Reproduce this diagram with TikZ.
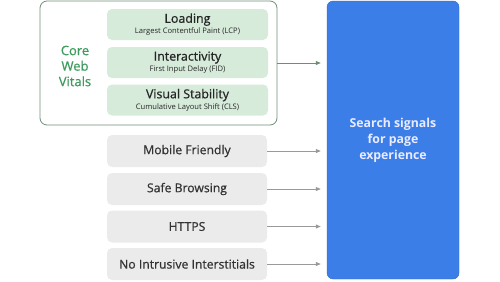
\documentclass[tikz,border=0pt]{standalone}
\usepackage{fontspec}
\setmainfont{Open Sans}
\newfontfamily\medium[FakeBold=0.7]{Open Sans}
\usetikzlibrary{arrows.meta}

\definecolor{cwvline}{HTML}{6E8E78}
\definecolor{cwvfill}{HTML}{D6EBDA}
\definecolor{cwvtext}{HTML}{3E9A5E}
\definecolor{sigfill}{HTML}{EBEBEB}
\definecolor{sigblue}{HTML}{3C7EE8}
\definecolor{arrgray}{HTML}{9A9A9A}

\tikzset{
  metric/.style={rounded corners=5pt,fill=cwvfill,minimum width=161pt,minimum height=31pt,
    align=center,inner sep=0pt,text=black!85},
  signal/.style={rounded corners=5pt,fill=sigfill,minimum width=160pt,minimum height=32pt,
    inner sep=0pt,text=black!80,font=\medium\fontsize{12.2}{14}\selectfont},
  feed/.style={draw=arrgray,line width=0.8pt,-{Triangle[length=5pt,width=4pt]},shorten >=6pt}
}

\begin{document}
\begin{tikzpicture}[x=1pt,y=-1pt]
\useasboundingbox (0,0) rectangle (500,281);
% the target box
\node[rounded corners=6pt,fill=sigblue,draw=sigblue!85!black,line width=0.4pt,
  minimum width=132pt,minimum height=278pt,align=center,text=white!92!blue,
  font=\bfseries\fontsize{12.3}{16}\selectfont] (sig) at (393,140)
  {Search signals\\for page\\experience};
% core web vitals group
\node[rounded corners=7pt,draw=cwvline,line width=0.8pt,minimum width=237pt,
  minimum height=124pt] (cwv) at (158.5,63) {};
\node[text=cwvtext,align=center,font=\medium\fontsize{13}{15.5}\selectfont] (cwvlbl)
  at (75,66) {Core\\Web\\Vitals};
\node[metric] (lcp) at (187.5,24.5) {{\medium\fontsize{12.4}{13}\selectfont Loading}\\[-1pt]
  {\fontsize{7.6}{8}\selectfont Largest Contentful Paint (LCP)}};
\node[metric] (fid) at (187.5,62.5) {{\medium\fontsize{12.4}{13}\selectfont Interactivity}\\[-1pt]
  {\fontsize{7.6}{8}\selectfont First Input Delay (FID)}};
\node[metric] (cls) at (187.5,100) {{\medium\fontsize{12.4}{13}\selectfont Visual Stability}\\[-1pt]
  {\fontsize{7.6}{8}\selectfont Cumulative Layout Shift (CLS)}};
\draw[feed,draw=cwvline] (cwv.east) -- (cwv.east -| sig.west);
% other signals
\foreach \n/\y/\t in {mob/151/Mobile Friendly,safe/189/Safe Browsing,
    https/226.5/HTTPS,nii/264/No Intrusive Interstitials}{
  \node[signal] (\n) at (187,\y) {\t};
  \draw[feed] (\n.east) -- (\n.east -| sig.west);
}
\end{tikzpicture}
\end{document}
